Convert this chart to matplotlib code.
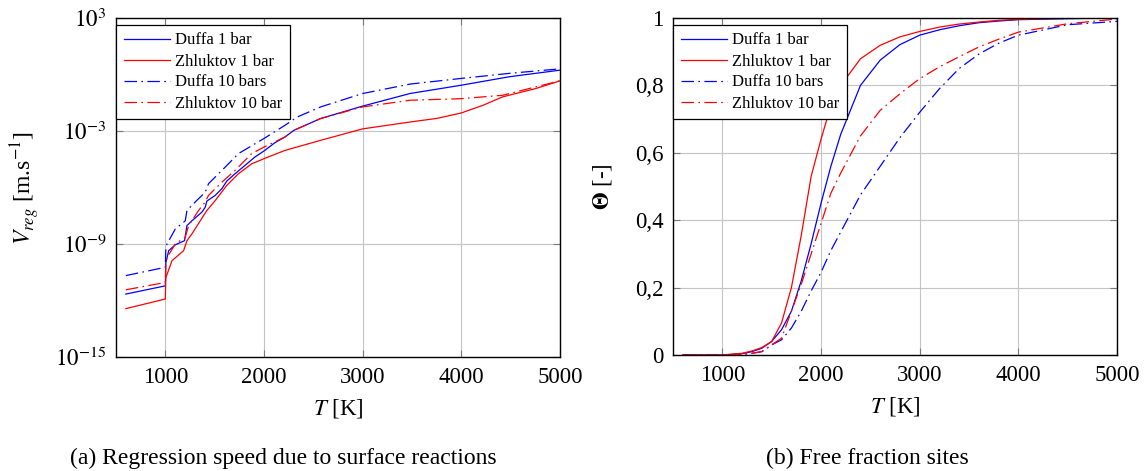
import numpy as np
import matplotlib
matplotlib.use("Agg")
import matplotlib.pyplot as plt
from matplotlib.ticker import FuncFormatter, NullLocator

plt.rcParams['font.family'] = ['Liberation Serif', 'DejaVu Serif']
plt.rcParams['mathtext.fontset'] = 'stix'

# ---- (a) regression speed [m/s] ----
t_duffa1 = [600, 1000, 1005, 1034, 1101, 1195, 1219, 1269, 1370, 1404, 1421, 1505, 1572, 1623,
            1707, 1808, 1909, 2000, 2111, 2212, 2305, 2574, 3000, 3480, 4000, 4487, 5000]
v_duffa1 = [2.2e-12, 6.0e-12, 1.0e-10, 4.4e-10, 9.1e-10, 1.5e-9, 9.5e-9, 1.7e-8, 4.9e-8, 8.9e-8,
            1.9e-7, 3.8e-7, 8.5e-7, 2.2e-6, 5.4e-6, 1.5e-5, 4.2e-5, 8.7e-5, 2.4e-4, 4.8e-4,
            1.1e-3, 4.6e-3, 2.1e-2, 9.8e-2, 0.27, 0.76, 1.7]

t_zhl1 = [600, 1000, 1005, 1067, 1185, 1219, 1269, 1387, 1421, 1505, 1623, 1741, 1875, 2000,
          2212, 2574, 3000, 3480, 3756, 4000, 4218, 4419, 4755, 5000]
v_zhl1 = [3.7e-13, 1.2e-12, 1.6e-11, 1.3e-10, 4.4e-10, 1.5e-9, 3.4e-9, 3.2e-8, 6.0e-8, 2.0e-7,
          1.3e-6, 5.4e-6, 1.8e-5, 3.4e-5, 9.3e-5, 3.2e-4, 1.3e-3, 3.0e-3, 4.7e-3, 9.1e-3,
          2.3e-2, 6.5e-2, 0.18, 0.46]

t_duffa10 = [600, 1000, 1005, 1017, 1101, 1202, 1219, 1303, 1404, 1438, 1539, 1606, 1741, 1909,
             2000, 2212, 2339, 2574, 3000, 3480, 4000, 4487, 5000]
v_duffa10 = [2.1e-11, 5.8e-11, 6.3e-10, 1.0e-9, 6.3e-9, 1.7e-8, 6.0e-8, 1.7e-7, 5.6e-7, 1.6e-6,
             5.4e-6, 1.2e-5, 6.3e-5, 2.1e-4, 4.0e-4, 2.0e-3, 5.6e-3, 1.9e-2, 9.8e-2, 0.31,
             0.62, 1.15, 2.0]

t_zhl10 = [600, 1000, 1005, 1017, 1101, 1202, 1236, 1337, 1404, 1438, 1572, 1707, 1875, 2000,
           2212, 2305, 2574, 3000, 3480, 4000, 4419, 4755, 5000]
v_zhl10 = [3.7e-12, 9.1e-12, 1.0e-10, 1.9e-10, 1.0e-9, 2.3e-9, 9.5e-9, 6.0e-8, 1.7e-7, 3.8e-7,
           1.9e-6, 8.1e-6, 6.3e-5, 1.4e-4, 4.8e-4, 1.1e-3, 4.6e-3, 1.9e-2, 4.3e-2, 5.2e-2,
           7.9e-2, 0.22, 0.46]

# ---- (b) free fraction sites ----
t_theta = [600, 800, 1000, 1200, 1300, 1400, 1500, 1600, 1700, 1800, 1900, 2000, 2100, 2200,
           2400, 2600, 2800, 3000, 3200, 3400, 3600, 3800, 4000, 4500, 5000]
th_duffa1 = [0, 0, 0, 0.004, 0.01, 0.02, 0.04, 0.075, 0.13, 0.22, 0.33, 0.45, 0.56, 0.655,
             0.80, 0.875, 0.921, 0.949, 0.965, 0.977, 0.986, 0.991, 0.995, 0.998, 1.0]
th_zhl1 = [0, 0, 0, 0.005, 0.012, 0.022, 0.04, 0.095, 0.20, 0.355, 0.53, 0.64, 0.74, 0.80,
           0.879, 0.919, 0.944, 0.96, 0.973, 0.982, 0.988, 0.993, 0.996, 0.999, 1.0]
th_duffa10 = [0, 0, 0, 0.002, 0.005, 0.01, 0.03, 0.045, 0.08, 0.13, 0.19, 0.245, 0.31, 0.365,
              0.475, 0.56, 0.645, 0.72, 0.79, 0.85, 0.893, 0.925, 0.949, 0.98, 0.99]
th_zhl10 = [0, 0, 0, 0.002, 0.005, 0.01, 0.03, 0.05, 0.13, 0.21, 0.30, 0.39, 0.48, 0.54,
            0.65, 0.726, 0.775, 0.82, 0.855, 0.885, 0.914, 0.937, 0.958, 0.983, 0.997]

labels = ['Duffa 1 bar', 'Zhluktov 1 bar', 'Duffa 10 bars', 'Zhluktov 10 bar']
x_ticks = [1000, 2000, 3000, 4000, 5000]
logv_ticks = [1e-15, 1e-9, 1e-3, 1e3]
logv_ticklabels = ['$10^{-15}$', '$10^{-9}$', '$10^{-3}$', '$10^{3}$']
theta_ticks = [0, 0.2, 0.4, 0.6, 0.8, 1.0]

dashdot = (0, (10, 3.5, 1.3, 3.5))
lw = 0.9
fs = 16.5

fig = plt.figure(figsize=(11.46, 4.71), dpi=100)
ax1 = fig.add_axes([116 / 1146, 1 - 357 / 471, 444 / 1146, 339 / 471])
ax2 = fig.add_axes([673 / 1146, 1 - 355 / 471, 444 / 1146, 337 / 471])


def style(ax):
    ax.grid(True, color='#c4c4c4', linewidth=0.8)
    ax.set_axisbelow(True)
    ax.tick_params(direction='in', length=5, width=0.8, color='#7a7a7a',
                   top=True, right=True, labelsize=fs, pad=7)
    ax.xaxis.set_minor_locator(NullLocator())
    ax.yaxis.set_minor_locator(NullLocator())
    for s in ax.spines.values():
        s.set_linewidth(1.0)
    ax.set_xlim(500, 5000)
    ax.set_xticks(x_ticks)
    ax.set_xlabel('$T$ [K]', fontsize=fs)
    ax.xaxis.set_label_coords(0.5, -0.118)
    ax.xaxis.label.set_va('top')


ax1.plot(t_duffa1, v_duffa1, color='blue', lw=lw, label=labels[0])
ax1.plot(t_zhl1, v_zhl1, color='red', lw=lw, label=labels[1])
ax1.plot(t_duffa10, v_duffa10, color='blue', lw=lw, ls=dashdot, label=labels[2])
ax1.plot(t_zhl10, v_zhl10, color='red', lw=lw, ls=dashdot, label=labels[3])
ax1.set_yscale('log')
ax1.set_ylim(1e-15, 1e3)
style(ax1)
ax1.set_yticks(logv_ticks, logv_ticklabels)
ax1.yaxis.set_minor_locator(NullLocator())
ax1.set_ylabel('$V_{reg}$ [m.s$^{-1}$]', fontsize=17)
ax1.yaxis.set_label_coords(-0.166, 0.5)

ax2.plot(t_theta, th_duffa1, color='blue', lw=lw, label=labels[0])
ax2.plot(t_theta, th_zhl1, color='red', lw=lw, label=labels[1])
ax2.plot(t_theta, th_duffa10, color='blue', lw=lw, ls=dashdot, label=labels[2])
ax2.plot(t_theta, th_zhl10, color='red', lw=lw, ls=dashdot, label=labels[3])
ax2.set_ylim(0, 1)
style(ax2)
ax2.set_yticks(theta_ticks)
ax2.yaxis.set_major_formatter(FuncFormatter(lambda v, p: ('%g' % round(v, 1)).replace('.', ',')))
ax2.set_ylabel(r'$\mathbf{\Theta}$ [-]', fontsize=fs)
ax2.yaxis.set_label_coords(-0.133, 0.5)

for ax, h in ((ax1, 339), (ax2, 337)):
    leg = ax.legend(loc='upper left', bbox_to_anchor=(0, 1 - 7 / h), borderaxespad=0,
                    fontsize=12, fancybox=False, framealpha=1, edgecolor='black',
                    handlelength=2.8, handletextpad=0.3, labelspacing=0.3, borderpad=0.45)
    leg.get_frame().set_linewidth(0.9)

fig.text(283 / 1146, 1 - 458 / 471, '(a) Regression speed due to surface reactions',
         ha='center', va='center', fontsize=17)
fig.text(867 / 1146, 1 - 458 / 471, '(b) Free fraction sites',
         ha='center', va='center', fontsize=17)

fig.savefig('out.png', dpi=100)
